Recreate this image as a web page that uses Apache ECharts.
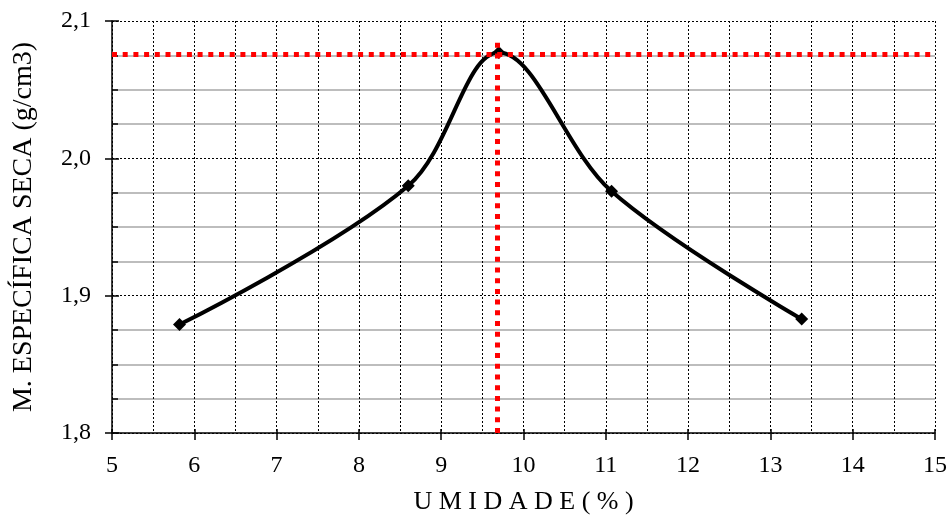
<!DOCTYPE html>
<html>
<head>
    <meta charset="utf-8">
    <title>Curva de compactação</title>
    <script src="https://cdn.jsdelivr.net/npm/echarts@6/dist/echarts.min.js"></script>
</head>
<body style="margin:0;background:#fff;">
    <div id="main" style="width:951px;height:517px;"></div>
    <script>
        // umidade (%) e massa específica seca (g/cm3)
        var umidade = [5.82, 8.60, 9.70, 11.07, 13.38];
        var massaSeca = [1.879, 1.980, 2.077, 1.976, 1.883];
        // ponto ótimo (linhas vermelhas)
        var umidadeOtima = 9.68;
        var massaMaxima = 2.076;
        var yLabels = {1.8: '1,8', 1.9: '1,9', 2.0: '2,0', 2.1: '2,1'};

        var fonte = '"Liberation Serif", "Times New Roman", serif';
        var myChart = echarts.init(document.getElementById('main'));

        var pontos = umidade.map(function (u, i) { return [u, massaSeca[i]]; });

        var option = {
            animation: false,
            grid: { left: 112, right: 16, top: 21, bottom: 84, outerBoundsMode: 'none', containLabel: false },
            xAxis: [{
                type: 'value', min: 5, max: 15, interval: 1,
                name: 'U M I D A D E ( % )', nameLocation: 'middle', nameGap: 56,
                nameTextStyle: { fontFamily: fonte, fontSize: 26, color: '#000' },
                axisLine: { lineStyle: { color: '#000', width: 1.5 } },
                axisTick: { length: 7, lineStyle: { color: '#000', width: 1.5 } },
                axisLabel: { fontFamily: fonte, fontSize: 24, color: '#000', margin: 21 },
                splitLine: { lineStyle: { color: '#000', type: [2, 2], width: 1 } },
                minorTick: { show: false, splitNumber: 2 },
                minorSplitLine: { show: true, lineStyle: { color: '#000', type: [2, 2], width: 1 } }
            }, {
                type: 'value', min: 5, max: 15, interval: 1, position: 'bottom',
                axisLine: { show: false }, axisLabel: { show: false }, splitLine: { show: false },
                axisTick: { inside: true, length: 4, lineStyle: { color: '#000', width: 1.5 } }
            }],
            yAxis: [{
                type: 'value', min: 1.8, max: 2.1, interval: 0.1,
                name: 'M. ESPECÍFICA SECA (g/cm3)', nameLocation: 'middle', nameGap: 74,
                nameTextStyle: { fontFamily: fonte, fontSize: 28, color: '#000' },
                axisLine: { show: true, lineStyle: { color: '#000', width: 1.5 } },
                axisTick: { show: true, length: 7, lineStyle: { color: '#000', width: 1.5 } },
                axisLabel: {
                    fontFamily: fonte, fontSize: 24, color: '#000', margin: 21,
                    formatter: function (v) { return yLabels[Math.round(v * 10) / 10] || ''; }
                },
                splitLine: { lineStyle: { color: '#000', type: [2, 2], width: 1 } },
                minorTick: { show: false, splitNumber: 4 },
                minorSplitLine: { show: true, lineStyle: { color: '#bdbdbd', width: 2 } }
            }, {
                type: 'value', min: 1.8, max: 2.1, interval: 0.1, position: 'left',
                axisLine: { show: false }, axisLabel: { show: false }, splitLine: { show: false },
                axisTick: { show: true, inside: true, length: 7, lineStyle: { color: '#000', width: 1.5 } },
                minorTick: { show: true, splitNumber: 4, length: 6, lineStyle: { color: '#000', width: 1.5 } }
            }],
            series: [{
                type: 'line',
                data: pontos,
                smooth: 0.35,
                clip: false,
                symbol: 'diamond',
                symbolSize: 13,
                lineStyle: { color: '#000', width: 4 },
                itemStyle: { color: '#000' },
                z: 3,
                markLine: {
                    silent: true,
                    symbol: 'none',
                    label: { show: false },
                    lineStyle: { color: '#ff0000', width: 5, type: [5, 5.7], cap: 'butt' },
                    data: [
                        [{ coord: [5, massaMaxima] }, { coord: [15, massaMaxima] }],
                        [{ coord: [umidadeOtima, 1.8] }, { coord: [umidadeOtima, 2.086] }]
                    ]
                }
            }]
        };

        myChart.setOption(option);
    </script>
</body>
</html>
